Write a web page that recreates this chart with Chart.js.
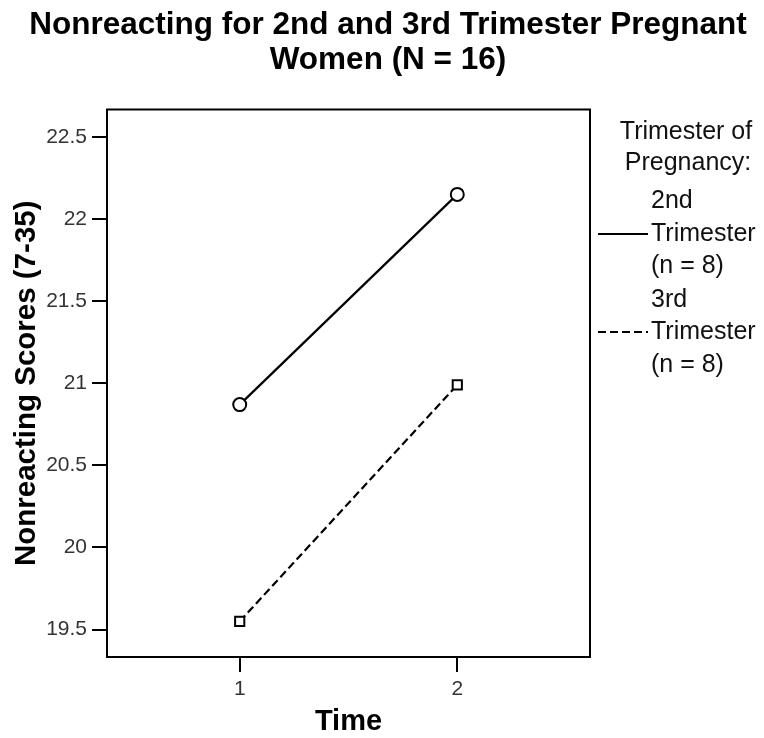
<!DOCTYPE html>
<html>
<head>
<meta charset="utf-8">
<script src="https://cdn.jsdelivr.net/npm/chart.js@4/dist/chart.umd.min.js"></script>
<style>
  body { margin: 0; background: #fff; }
</style>
</head>
<body>
<canvas id="myChart" width="764" height="738"></canvas>
<script>
// data
const times = [1, 2];
const secondTri = [20.87, 22.15];
const thirdTri = [19.55, 20.99];
const yTicks = [19.5, 20, 20.5, 21, 21.5, 22, 22.5];
const xTicks = [1, 2];

const titleLines = ["Nonreacting for 2nd and 3rd Trimester Pregnant", "Women (N = 16)"];
const legendHeader = ["Trimester of", "Pregnancy:"];
const seriesNames = [["2nd", "Trimester", "(n = 8)"], ["3rd", "Trimester", "(n = 8)"]];

const FONT = "'Liberation Sans', Arial, sans-serif";

// titles, frame and legend, drawn by hand like the SPSS output
const decor = {
  id: "decor",
  afterDatasetsDraw(chart) {
    const ctx = chart.ctx;
    const a = chart.chartArea;
    ctx.save();
    ctx.strokeStyle = "#000";
    ctx.lineWidth = 2;
    ctx.strokeRect(a.left, a.top, a.right - a.left, a.bottom - a.top);

    ctx.fillStyle = "#000";
    ctx.textAlign = "center";
    ctx.textBaseline = "middle";
    ctx.font = "bold 31.5px " + FONT;
    ctx.fillText(titleLines[0], 388, 25);
    ctx.fillText(titleLines[1], 388, 60);

    ctx.font = "bold 29px " + FONT;
    ctx.fillText("Time", (a.left + a.right) / 2, 722);

    ctx.save();
    ctx.translate(27, (a.top + a.bottom) / 2);
    ctx.rotate(-Math.PI / 2);
    ctx.font = "bold 29.5px " + FONT;
    ctx.fillText("Nonreacting Scores (7-35)", 0, 0);
    ctx.restore();

    // legend
    ctx.fillStyle = "#111";
    ctx.font = "25px " + FONT;
    ctx.fillText(legendHeader[0], 686, 132);
    ctx.fillText(legendHeader[1], 688, 163);
    ctx.textAlign = "left";
    const rowsY = [[201, 234, 266], [300, 332, 365]];
    chart.data.datasets.forEach((ds, i) => {
      const ys = rowsY[i];
      seriesNames[i].forEach((t, j) => ctx.fillText(t, 651, ys[j]));
      ctx.strokeStyle = ds.borderColor;
      ctx.lineWidth = ds.borderWidth;
      ctx.setLineDash(ds.borderDash || []);
      ctx.beginPath();
      ctx.moveTo(598, ys[1]);
      ctx.lineTo(648, ys[1]);
      ctx.stroke();
    });
    ctx.restore();
  }
};

const ctx = document.getElementById("myChart").getContext("2d");
new Chart(ctx, {
  type: "line",
  data: {
    datasets: [
      {
        label: "2nd Trimester (n = 8)",
        data: times.map((t, i) => ({ x: t, y: secondTri[i] })),
        borderColor: "#000",
        borderWidth: 2.2,
        pointStyle: "circle",
        pointRadius: 6.5,
        pointBorderWidth: 2,
        pointBackgroundColor: "#fff",
        pointBorderColor: "#000"
      },
      {
        label: "3rd Trimester (n = 8)",
        data: times.map((t, i) => ({ x: t, y: thirdTri[i] })),
        borderColor: "#000",
        borderWidth: 2.2,
        borderDash: [8, 4],
        pointStyle: "rect",
        pointRadius: 6.5,
        pointBorderWidth: 2,
        pointBackgroundColor: "#fff",
        pointBorderColor: "#000"
      }
    ]
  },
  options: {
    responsive: false,
    animation: false,
    layout: { padding: { top: 109.5, right: 174, left: 0, bottom: 0 } },
    plugins: { legend: { display: false }, title: { display: false }, tooltip: { enabled: false } },
    scales: {
      x: {
        type: "linear",
        min: 0.39,
        max: 2.61,
        afterFit: s => { s.height = 81; },
        afterBuildTicks: s => { s.ticks = xTicks.map(v => ({ value: v })); },
        border: { display: false },
        grid: { drawOnChartArea: false, tickLength: 15, tickColor: "#000", lineWidth: 2 },
        ticks: { color: "#333", padding: 5, font: { family: FONT, size: 21 }, callback: v => String(v) }
      },
      y: {
        min: 19.333,
        max: 22.667,
        afterFit: s => { s.width = 107; },
        afterBuildTicks: s => { s.ticks = yTicks.map(v => ({ value: v })); },
        border: { display: false },
        grid: { drawOnChartArea: false, tickLength: 15, tickColor: "#000", lineWidth: 2 },
        ticks: { color: "#333", padding: 5, font: { family: FONT, size: 21 }, callback: v => String(v) }
      }
    }
  },
  plugins: [decor]
});
</script>
</body>
</html>
